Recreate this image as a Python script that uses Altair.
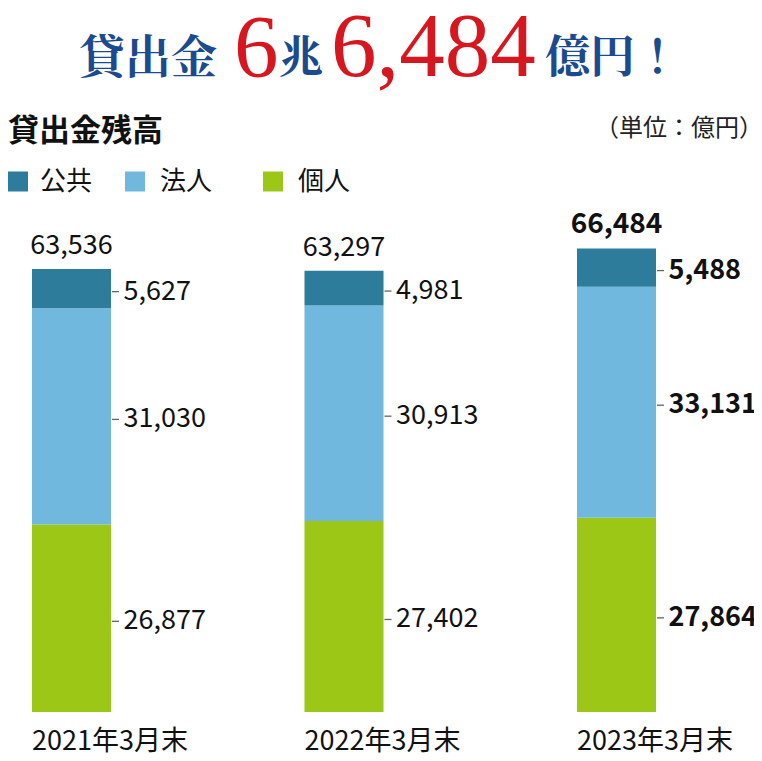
import altair as alt
import pandas as pd

# ---- data ----
years = ["2021年3月末", "2022年3月末", "2023年3月末"]
segments = ["個人", "法人", "公共"]          # bottom -> top
kojin = [26877, 27402, 27864]               # 個人
hojin = [31030, 30913, 33131]               # 法人
kokyo = [5627, 4981, 5488]                  # 公共
totals = [63536, 63297, 66484]
legend_labels = ["公共", "法人", "個人"]
seg_colors = {"公共": "#2e7c9b", "法人": "#70b8dd", "個人": "#9dc716"}

FONT = "Noto Sans CJK JP"
SERIF = "Liberation Serif"
CJK_TITLE = "Noto Serif CJK JP, Noto Sans CJK JP"
BLUE = "#1b4b8e"
RED = "#d6171f"

rows = []
for i, yr in enumerate(years):
    base = 0
    for k, (seg, vals) in enumerate(zip(segments, [kojin, hojin, kokyo])):
        v = vals[i]
        rows.append(dict(year=yr, seg=seg, order=k, start=base, end=base + v,
                         mid=base + v / 2, label=f"{v:,}", bold=(i == len(years) - 1)))
        base += v
df = pd.DataFrame(rows)
tot = pd.DataFrame(dict(year=years, total=totals,
                        label=[f"{t:,}" for t in totals],
                        bold=[i == len(years) - 1 for i in range(len(years))]))

X = alt.X("year:N", sort=years,
          scale=alt.Scale(paddingInner=0.71, paddingOuter=0.088),
          axis=alt.Axis(title=None, domain=False, ticks=False, tickSize=0,
                        labelFont=FONT, labelFontSize=27, labelColor="#111111",
                        labelPadding=29, labelBaseline="middle", labelAngle=0,
                        labelAlign="left", labelOffset=-39.5))
YSCALE = alt.Scale(domain=[0, 100970], nice=False, zero=True)

bars = alt.Chart(df).mark_bar().encode(
    x=X,
    y=alt.Y("start:Q", scale=YSCALE, axis=None),
    y2="end:Q",
    color=alt.Color("seg:N", scale=alt.Scale(domain=list(seg_colors.keys()),
                                             range=list(seg_colors.values())),
                    legend=None),
)

ticks = alt.Chart(df).mark_tick(size=7, thickness=1.3, color="#222222", xOffset=44,
                                yOffset=3, orient="horizontal").encode(
    x=X, y=alt.Y("mid:Q", scale=YSCALE, axis=None))

def seg_labels(bold):
    return alt.Chart(df).transform_filter(
        alt.datum.bold if bold else ~alt.datum.bold
    ).mark_text(align="left", baseline="middle", dx=52, dy=3, font=FONT,
                fontSize=27, fontWeight="bold" if bold else "normal",
                color="#111111").encode(
        x=X, y=alt.Y("mid:Q", scale=YSCALE, axis=None), text="label:N")

def tot_labels(bold):
    return alt.Chart(tot).transform_filter(
        alt.datum.bold if bold else ~alt.datum.bold
    ).mark_text(align="center", baseline="middle", dy=-23, font=FONT,
                fontSize=28 if bold else 27, fontWeight="bold" if bold else "normal",
                color="#111111").encode(
        x=X, y=alt.Y("total:Q", scale=YSCALE, axis=None), text="label:N")

one = pd.DataFrame({"a": [0]})

def txt(s, x, y, size, color="#111111", font=FONT, weight="normal",
        align="left", baseline="alphabetic"):
    return alt.Chart(one).mark_text(text=s, font=font, fontSize=size, fontWeight=weight,
                                    color=color, align=align, baseline=baseline).encode(
        x=alt.value(x), y=alt.value(y))

title_layers = [
    txt("貸出金", 71, 65, 46, BLUE, font=CJK_TITLE, weight="bold"),
    txt("6", 226, 68, 89, RED, font=SERIF),
    txt("兆", 271, 65, 44, BLUE, font=CJK_TITLE, weight="bold"),
    txt("6,484", 323, 68, 91, RED, font=SERIF),
    txt("億円！", 537, 65, 45, BLUE, font=CJK_TITLE, weight="bold"),
    txt("貸出金残高", 0, 124, 31, "#111111", weight="bold", baseline="middle"),
    txt("（単位：億円）", 755, 121, 24, "#222222", align="right", baseline="middle"),
]

legend_sq_x = [10, 127, 265]
legend_tx_x = [32, 152, 290]
legend_layers = []
for lab, sx, tx in zip(legend_labels, legend_sq_x, legend_tx_x):
    legend_layers.append(
        alt.Chart(one).mark_square(size=400, color=seg_colors[lab], opacity=1).encode(
            x=alt.value(sx), y=alt.value(173.5)))
    legend_layers.append(txt(lab, tx, 174, 26, "#111111", baseline="middle"))

chart = alt.layer(
    bars, ticks, seg_labels(False), seg_labels(True), tot_labels(False), tot_labels(True),
    *title_layers, *legend_layers
).properties(
    width=672, height=704,
    autosize=alt.AutoSizeParams(type="none"),
    padding={"left": 0, "top": 0, "right": 74, "bottom": 41},
).configure_view(stroke=None)

chart.save("out.html", embed_options={"renderer": "svg", "actions": False})
